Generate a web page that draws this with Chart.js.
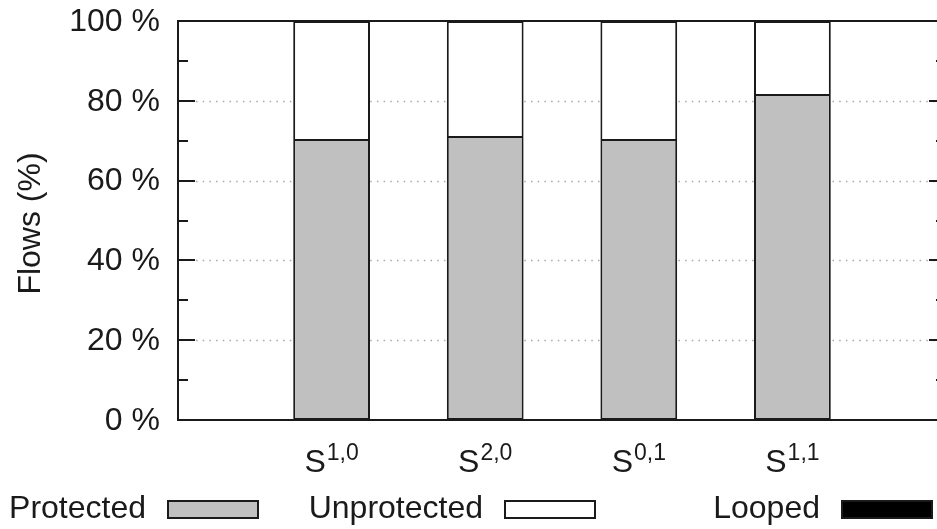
<!DOCTYPE html>
<html>
<head>
<meta charset="utf-8">
<script src="https://cdn.jsdelivr.net/npm/chart.js@4.4.1/dist/chart.umd.min.js"></script>
<style>
  html, body { margin: 0; padding: 0; background: #fff; overflow: hidden; }
  #wrap { width: 960px; height: 529px; }
</style>
</head>
<body>
<div id="wrap"><canvas id="c" width="960" height="529"></canvas></div>
<script>
// Scenario names (base letter + superscript) and flow shares in percent
const categoryBase = ['S', 'S', 'S', 'S'];
const categorySup = ['1,0', '2,0', '0,1', '1,1'];
const protectedFlows = [70.4, 71.2, 70.4, 81.7];
const unprotectedFlows = [29.6, 28.8, 29.6, 18.3];
const loopedFlows = [0, 0, 0, 0];
const yTicks = [0, 20, 40, 60, 80, 100];
const yTickLabels = ['0 %', '20 %', '40 %', '60 %', '80 %', '100 %'];
const yTitle = 'Flows (%)';

// one empty slot on each side of the bars
const slots = ['', ...categoryBase.map((b, i) => b + categorySup[i]), ''];
const pad = arr => [null, ...arr, null];

const FONT = '"Liberation Sans", Arial, sans-serif';
const INK = '#1a1a1a';

const decor = {
  id: 'decor',
  beforeDatasetsDraw(chart) {
    const { ctx, chartArea: a, scales: { y } } = chart;
    ctx.save();
    ctx.strokeStyle = '#a8a8a8';
    ctx.lineWidth = 1.5;
    ctx.setLineDash([1.5, 5.2]);
    yTicks.forEach(v => {
      if (v === y.min || v === y.max) return;
      const py = Math.round(y.getPixelForValue(v)) + 0.5;
      ctx.beginPath();
      ctx.moveTo(a.left + 18, py);
      ctx.lineTo(a.right, py);
      ctx.stroke();
    });
    ctx.restore();
  },
  afterDatasetsDraw(chart) {
    const { ctx, chartArea: a, scales: { x, y } } = chart;
    ctx.save();
    ctx.strokeStyle = INK;
    ctx.lineWidth = 2;
    ctx.setLineDash([]);
    // frame
    ctx.strokeRect(a.left, a.top, a.right - a.left, a.bottom - a.top);
    // inward ticks, major every 20, minor every 10, mirrored on the right
    for (let v = y.min; v <= y.max; v += 10) {
      const py = Math.round(y.getPixelForValue(v));
      const len = v % 20 === 0 ? 17 : 10;
      ctx.beginPath();
      ctx.moveTo(a.left, py); ctx.lineTo(a.left + len, py);
      ctx.moveTo(a.right, py); ctx.lineTo(a.right - len, py);
      ctx.stroke();
    }
    // y tick labels
    ctx.fillStyle = INK;
    ctx.font = '32px ' + FONT;
    ctx.textAlign = 'right';
    ctx.textBaseline = 'middle';
    yTicks.forEach((v, i) => {
      ctx.fillText(yTickLabels[i], a.left - 18, y.getPixelForValue(v) + 1);
    });
    // category labels with superscripts
    ctx.textAlign = 'left';
    ctx.textBaseline = 'alphabetic';
    categoryBase.forEach((b, i) => {
      ctx.font = '32px ' + FONT;
      const wb = ctx.measureText(b).width;
      ctx.font = '23px ' + FONT;
      const ws = ctx.measureText(categorySup[i]).width;
      const cx = x.getPixelForValue(i + 1);
      const x0 = cx - (wb + ws + 1) / 2;
      ctx.font = '32px ' + FONT;
      ctx.fillText(b, x0, 472);
      ctx.font = '23px ' + FONT;
      ctx.fillText(categorySup[i], x0 + wb + 1, 460);
    });
    // y title
    ctx.save();
    ctx.translate(40, (a.top + a.bottom) / 2 + 3);
    ctx.rotate(-Math.PI / 2);
    ctx.font = '32px ' + FONT;
    ctx.textAlign = 'center';
    ctx.fillText(yTitle, 0, 0);
    ctx.restore();
    // legend: label right-aligned, then a sample box
    ctx.font = '32px ' + FONT;
    ctx.textAlign = 'right';
    ctx.textBaseline = 'middle';
    chart.data.datasets.forEach((ds, i) => {
      const bx = 168 + i * 337;
      ctx.fillStyle = INK;
      ctx.fillText(ds.label, bx - 22, 509);
      ctx.fillStyle = ds.backgroundColor;
      ctx.fillRect(bx, 501, 90, 17);
      ctx.strokeStyle = INK;
      ctx.lineWidth = 2;
      ctx.strokeRect(bx, 501, 90, 17);
    });
    ctx.restore();
  }
};

const barStyle = {
  borderColor: INK,
  borderWidth: 2,
  barPercentage: 0.5,
  categoryPercentage: 1.0
};

new Chart(document.getElementById('c'), {
  type: 'bar',
  data: {
    labels: slots,
    datasets: [
      { label: 'Protected', data: pad(protectedFlows), backgroundColor: '#c0c0c0', borderSkipped: false, ...barStyle },
      // the segment below already draws the shared edge
      { label: 'Unprotected', data: pad(unprotectedFlows), backgroundColor: '#ffffff', borderSkipped: 'start', ...barStyle },
      { label: 'Looped', data: pad(loopedFlows), backgroundColor: '#000000', borderSkipped: 'start', ...barStyle }
    ]
  },
  options: {
    responsive: false,
    animation: false,
    devicePixelRatio: 1,
    layout: { padding: { left: 178, right: 14, top: 21, bottom: 109 } },
    plugins: { legend: { display: false }, tooltip: { enabled: false } },
    scales: {
      x: { type: 'category', offset: false, stacked: true, display: false },
      y: { min: 0, max: 100, stacked: true, display: false }
    }
  },
  plugins: [decor]
});
</script>
</body>
</html>
